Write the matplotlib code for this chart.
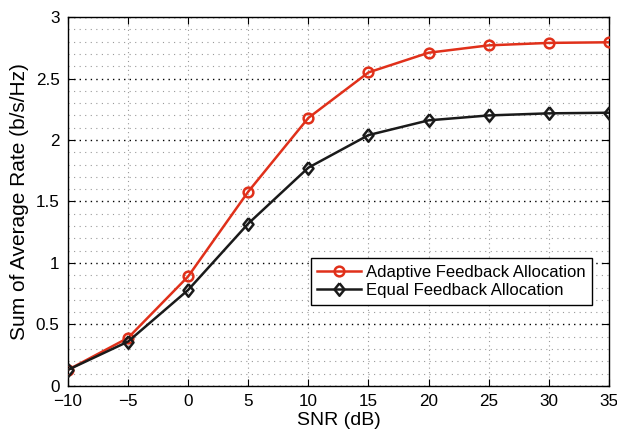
import matplotlib.pyplot as plt
from matplotlib.ticker import MultipleLocator

plt.rcParams['font.family'] = ['Liberation Sans', 'DejaVu Sans']

# data
snr = [-10, -5, 0, 5, 10, 15, 20, 25, 30, 35]
adaptive = [0.13, 0.39, 0.89, 1.58, 2.18, 2.55, 2.71, 2.77, 2.79, 2.795]
equal = [0.13, 0.36, 0.78, 1.32, 1.775, 2.04, 2.16, 2.20, 2.217, 2.222]

x_ticks = [-10, -5, 0, 5, 10, 15, 20, 25, 30, 35]
x_labels = ["\u221210", "\u22125", "0", "5", "10", "15", "20", "25", "30", "35"]
y_ticks = [0, 0.5, 1, 1.5, 2, 2.5, 3]
y_labels = ["0", "0.5", "1", "1.5", "2", "2.5", "3"]

diamond = [(0, 1), (0.8, 0), (0, -1), (-0.8, 0), (0, 1)]

fig = plt.figure(figsize=(6.17, 4.38), dpi=100)
ax = fig.add_axes([0.110, 0.119, 0.877, 0.842])

ax.plot(snr, adaptive, color="#e0301a", lw=1.8, marker="o", ms=7,
        mfc="none", mew=1.8, label="Adaptive Feedback Allocation", zorder=3)
ax.plot(snr, equal, color="#1a1a1a", lw=1.8, marker=diamond, ms=9,
        mfc="none", mew=1.8, label="Equal Feedback Allocation", zorder=3)

ax.set_xlim(-10, 35)
ax.set_ylim(0, 3)
ax.set_xticks(x_ticks)
ax.set_xticklabels(x_labels)
ax.set_yticks(y_ticks)
ax.set_yticklabels(y_labels)
ax.yaxis.set_minor_locator(MultipleLocator(0.1))

# MATLAB-like grid
ax.grid(True, which="major", axis="y", color="black", ls=(0, (1, 3)), lw=1.0)
ax.grid(True, which="minor", axis="y", color="#999999", ls=(0, (1, 4)), lw=0.8)
ax.grid(True, which="major", axis="x", color="#999999", ls=(0, (1, 3)), lw=0.8)

ax.tick_params(which="major", direction="in", top=True, right=True,
               length=5, width=0.8, labelsize=12.3, pad=6)
ax.tick_params(which="minor", length=0)
for s in ax.spines.values():
    s.set_linewidth(1.0)

ax.set_xlabel("SNR (dB)", fontsize=14, labelpad=2)
ax.set_ylabel("Sum of Average Rate (b/s/Hz)", fontsize=15, labelpad=5)

leg = ax.legend(loc="lower left", bbox_to_anchor=(0.449, 0.22), fontsize=12,
                fancybox=False, edgecolor="black", framealpha=1,
                borderpad=0.4, handlelength=2.6, handletextpad=0.3,
                labelspacing=0.2, borderaxespad=0)
leg.get_frame().set_linewidth(1.0)

fig.savefig("out.png", dpi=100)
plt.close(fig)
